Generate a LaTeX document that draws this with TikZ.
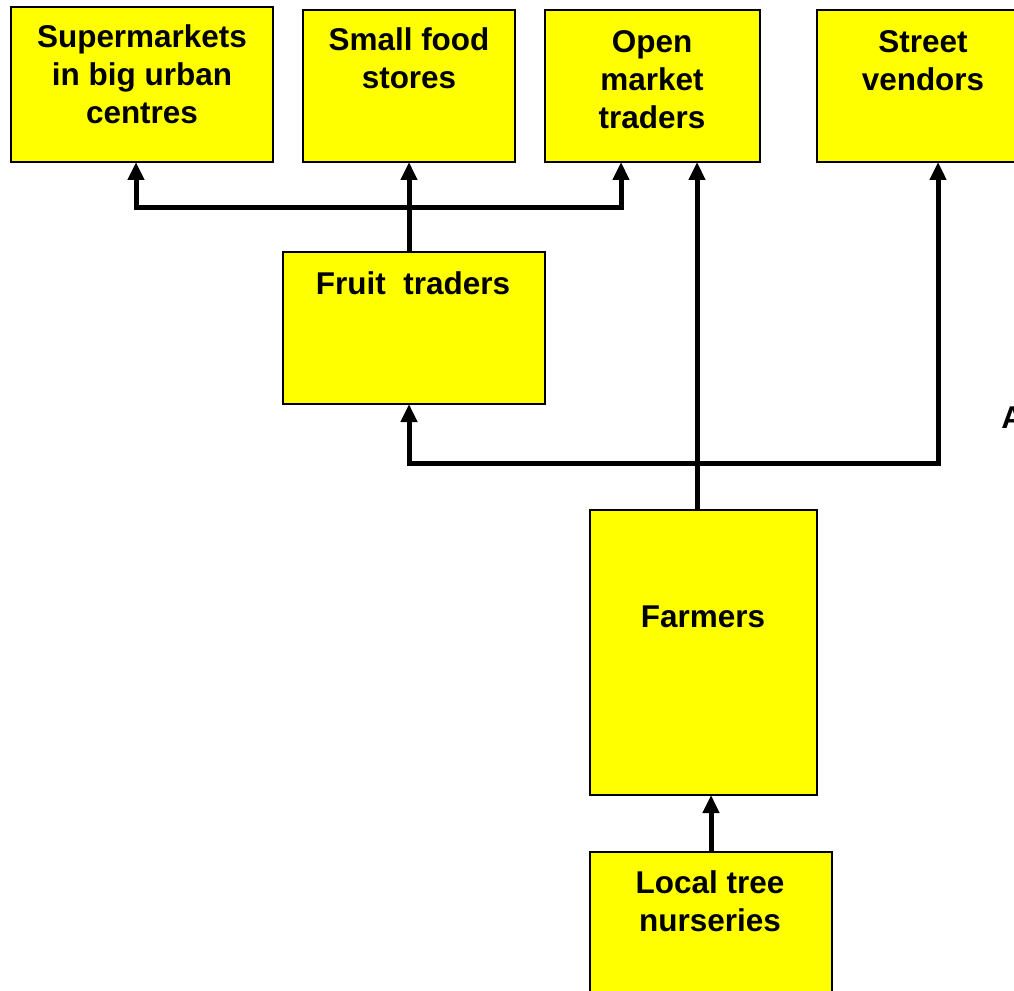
\documentclass[tikz,border=0pt]{standalone}
\usepackage{fontspec}
\setmainfont{Liberation Sans}
\usetikzlibrary{arrows.meta}
\definecolor{boxyellow}{RGB}{255,255,0}
\begin{document}
\begin{tikzpicture}[x=0.75pt,y=-0.75pt,
  box/.style={draw=black, line width=1.7pt, fill=boxyellow, inner sep=0pt, outer sep=0pt},
  lbl/.style={align=center, inner sep=0pt, font=\fontsize{23.6pt}{28.5pt}\selectfont\bfseries},
  link/.style={line width=3.75pt, line join=miter},
  tip/.style={-{Triangle[width=12pt,length=13.5pt]}},
  tips/.style={{Triangle[width=12pt,length=13.5pt]}-{Triangle[width=12pt,length=13.5pt]}}]
\clip (0,0) rectangle (1014,991);
% boxes
\node[box, minimum width=262*0.75pt, minimum height=155*0.75pt] (sm) at (142,84.5) {};
\node[box, minimum width=212*0.75pt, minimum height=152*0.75pt] (sf) at (409,86) {};
\node[box, minimum width=215*0.75pt, minimum height=152*0.75pt] (om) at (652.5,86) {};
\node[box, minimum width=215*0.75pt, minimum height=152*0.75pt] (sv) at (924.5,86) {};
\node[box, minimum width=262*0.75pt, minimum height=152*0.75pt] (ft) at (414,328) {};
\node[box, minimum width=227*0.75pt, minimum height=285*0.75pt] (fa) at (703.5,652.5) {};
\node[box, minimum width=242*0.75pt, minimum height=148*0.75pt] (ln) at (711,926) {};
% labels
\node[lbl] (smt) at (142,74) {Supermarkets\\in big urban\\centres};
\node[lbl] (sft) at (409,58.5) {Small food\\stores};
\node[lbl] (omt) at (652,80) {Open\\market\\traders};
\node[lbl] (svt) at (923,61) {Street\\vendors};
\node[lbl] (ftt) at (413,283) {Fruit\ \ traders};
\node[lbl] (fat) at (703,617) {Farmers};
\node[lbl] (lnt) at (710,901) {Local tree\\nurseries};
\node[lbl, anchor=base west] (a) at (1001,428) {A};
% junction points
\coordinate (b1) at (136,208);
\coordinate (b2) at (409,208);
\coordinate (b3) at (621,208);
\coordinate (c1) at (409,463);
\coordinate (c2) at (938,463);
\coordinate (fx) at (697,0);
\coordinate (lx) at (711,0);
% fruit traders to retailers
\draw[link, tips] (b1 |- sm.south) -- (b1) -- (b3) -- (b3 |- om.south);
\draw[link, tip] (b2 |- ft.north) -- (b2 |- sf.south);
% farmers to open market traders
\draw[link, tip] (fx |- fa.north) -- (fx |- om.south);
% farmers to fruit traders and street vendors
\draw[link, tips] (c1 |- ft.south) -- (c1) -- (c2) -- (c2 |- sv.south);
% nurseries to farmers
\draw[link, tip] (lx |- ln.north) -- (lx |- fa.south);
\end{tikzpicture}
\end{document}
